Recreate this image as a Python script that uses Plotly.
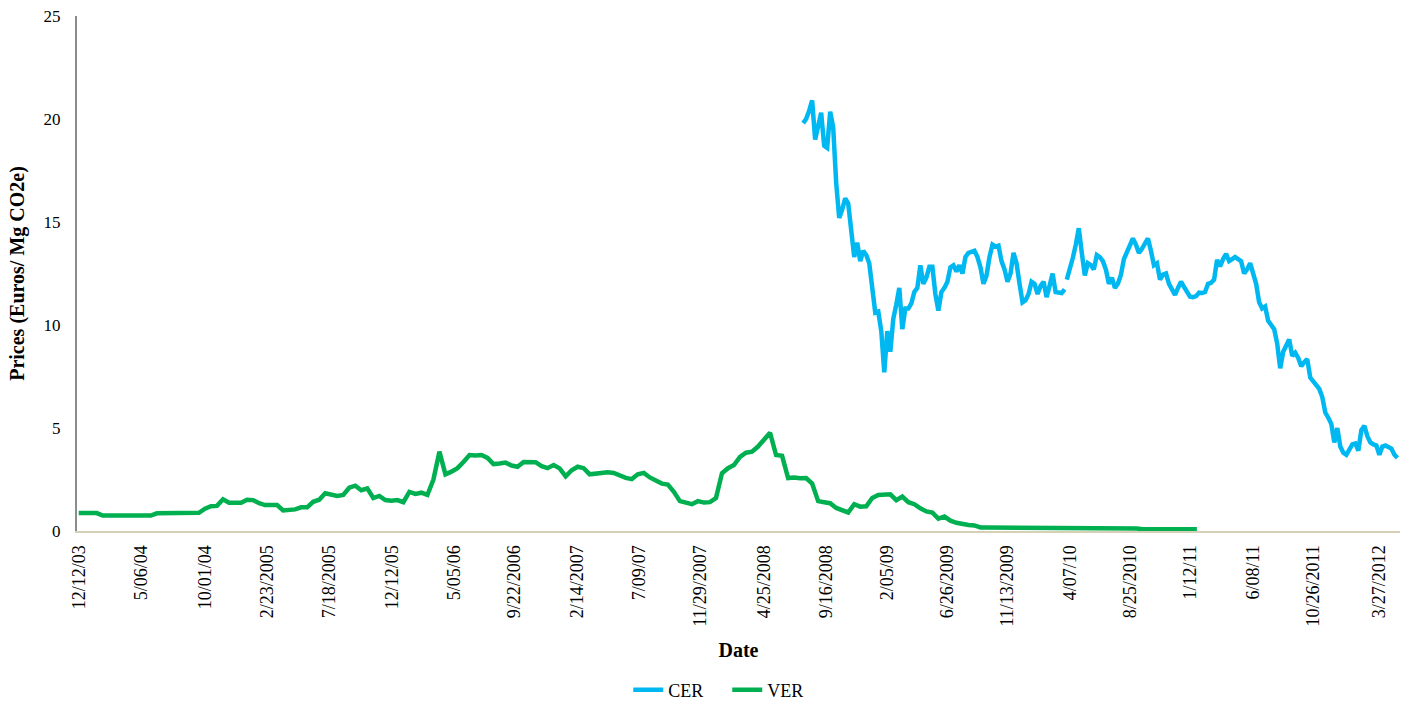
import pandas as pd
import plotly.graph_objects as go

# VER prices, fortnightly observations from 12 Dec 2003
ver_start = "2003-12-12"
ver_values = [
    0.87, 0.87, 0.87, 0.87,
    0.75, 0.75, 0.75, 0.75, 0.75, 0.75, 0.75, 0.75, 0.75,
    0.86, 0.86, 0.86, 0.86, 0.86, 0.86, 0.86,
    0.88, 1.08, 1.20, 1.22, 1.54, 1.37, 1.37, 1.37, 1.52, 1.50,
    1.35, 1.26, 1.26, 1.26, 1.00, 1.00, 1.05, 1.15, 1.15, 1.42,
    1.52, 1.83, 1.75, 1.70, 1.75, 2.10, 2.20, 1.98, 2.07, 1.60,
    1.70, 1.50, 1.47, 1.50, 1.40, 1.90, 1.80, 1.86, 1.75, 2.50,
    3.85, 2.75, 2.88, 3.05, 3.35, 3.69, 3.66, 3.69, 3.55, 3.25,
    3.28, 3.32, 3.18, 3.12, 3.35, 3.32, 3.34, 3.15, 3.05, 3.20,
    3.04, 2.65, 2.95, 3.12, 3.05, 2.75, 2.78, 2.82, 2.85, 2.82,
    2.67, 2.58, 2.52, 2.75, 2.82, 2.60, 2.45, 2.30, 2.25, 1.90,
    1.45, 1.35, 1.30, 1.45, 1.38, 1.40, 1.60, 2.80, 3.05, 3.20,
    3.60, 3.80, 3.85, 4.10, 4.40, 4.77, 3.69, 3.65, 2.57, 2.60,
    2.56, 2.57, 2.30, 1.45, 1.40, 1.35, 1.12, 1.00, 0.90, 1.30,
    1.18, 1.20, 1.60, 1.75, 1.78, 1.78, 1.50, 1.67, 1.40, 1.30,
    1.10, 0.95, 0.89, 0.60, 0.70, 0.50, 0.40, 0.33, 0.29, 0.27,
    0.17, 0.17, 0.17, 0.17, 0.17, 0.17, 0.17, 0.17, 0.17, 0.17,
    0.17, 0.17, 0.17, 0.17, 0.17, 0.17, 0.17, 0.17, 0.17, 0.17,
    0.17, 0.17, 0.17, 0.17, 0.17, 0.17,
    0.12,
    0.09, 0.09, 0.09, 0.09, 0.09, 0.09, 0.09, 0.09, 0.09, 0.09,
]

# CER prices, weekly, in two runs separated by a break in the record
cer_start_1 = "2008-07-25"
cer_values_1 = [
    19.8, 20.0, 20.4, 20.9, 19.0, 19.7, 20.3, 18.7, 18.6, 20.35,
    19.6, 16.9, 15.2, 15.6, 16.15, 15.9, 14.6, 13.3, 14.0, 13.1,
    13.6, 13.4, 13.0, 11.6, 10.6, 10.65, 9.7, 7.7, 9.7, 8.7,
    10.3, 11.0, 11.8, 9.8, 10.8, 10.8, 11.05, 11.6, 11.8, 12.9,
    12.0, 12.3, 12.83, 12.83, 11.5, 10.7, 11.6, 11.8, 12.1, 12.8,
    12.9, 12.6, 12.9, 12.5, 13.3, 13.5, 13.55, 13.6, 13.3, 12.8,
    12.0, 12.4, 13.3, 13.9, 13.8, 13.85, 13.1, 12.7, 12.1, 12.5,
    13.5, 13.0, 12.0, 11.1, 11.2, 11.5, 12.1, 12.0, 11.5, 11.9,
    12.1, 11.35, 11.9, 12.5, 11.6, 11.55, 11.55, 11.73,
]
cer_gap = "2010-03-28"
cer_start_2 = "2010-03-31"
cer_values_2 = [
    12.2, 12.7, 13.25, 13.9, 14.7, 13.5, 12.4, 13.0, 12.9, 12.7,
    13.4, 13.3, 13.1, 12.7, 12.0, 12.3, 11.8, 12.0, 12.43, 13.2,
    13.5, 13.8, 14.2, 13.9, 13.5, 13.7, 14.0, 14.2, 13.6, 12.9,
    13.0, 12.2, 12.45, 12.5, 12.0, 11.7, 11.46, 11.8, 12.1, 11.85,
    11.6, 11.37, 11.35, 11.4, 11.57, 11.55, 11.6, 12.0, 12.05, 12.2,
    13.16, 12.85, 13.2, 13.45, 13.1, 13.2, 13.3, 13.2, 13.1, 12.5,
    12.7, 13.0, 12.4, 12.0, 11.1, 10.8, 10.9, 10.2, 10.0, 9.8,
    9.1, 7.9, 8.7, 9.0, 9.3, 8.5, 8.65, 8.4, 8.0, 8.2,
    8.35, 7.45, 7.25, 7.1, 6.9, 6.5, 5.75, 5.5, 5.2, 4.3,
    5.0, 4.1, 3.8, 3.7, 3.95, 4.2, 4.25, 3.9, 4.9, 5.1,
    4.6, 4.3, 4.2, 4.15, 3.7, 4.1, 4.15, 4.05, 4.0, 3.7,
    3.55,
]

tick_dates = [
    "2003-12-12", "2004-05-06", "2004-10-01", "2005-02-23", "2005-07-18",
    "2005-12-12", "2006-05-05", "2006-09-22", "2007-02-14", "2007-07-09",
    "2007-11-29", "2008-04-25", "2008-09-16", "2009-02-05", "2009-06-26",
    "2009-11-13", "2010-04-07", "2010-08-25", "2011-01-12", "2011-06-08",
    "2011-10-26", "2012-03-27",
]
tick_labels = [
    "12/12/03", "5/06/04", "10/01/04", "2/23/2005", "7/18/2005",
    "12/12/05", "5/05/06", "9/22/2006", "2/14/2007", "7/09/07",
    "11/29/2007", "4/25/2008", "9/16/2008", "2/05/09", "6/26/2009",
    "11/13/2009", "4/07/10", "8/25/2010", "1/12/11", "6/08/11",
    "10/26/2011", "3/27/2012",
]

ver_dates = pd.date_range(ver_start, periods=len(ver_values), freq="14D")
cer_dates = (
    list(pd.date_range(cer_start_1, periods=len(cer_values_1), freq="7D"))
    + [pd.Timestamp(cer_gap)]
    + list(pd.date_range(cer_start_2, periods=len(cer_values_2), freq="7D"))
)
cer_values = cer_values_1 + [None] + cer_values_2

FONT = "Liberation Serif, Times New Roman, serif"

fig = go.Figure()
fig.add_trace(go.Scatter(
    x=cer_dates, y=cer_values, name="CER", mode="lines",
    line=dict(color="#00B8F1", width=4.5), connectgaps=False,
))
fig.add_trace(go.Scatter(
    x=ver_dates, y=ver_values, name="VER", mode="lines",
    line=dict(color="#00B050", width=4.5),
))

fig.update_layout(
    width=1402, height=702,
    margin=dict(l=77, r=2, t=16, b=171, pad=0, autoexpand=False),
    paper_bgcolor="white", plot_bgcolor="white",
    font=dict(family=FONT, size=17, color="black"),
    showlegend=True,
    legend=dict(
        orientation="h", x=0.4915, xanchor="center", y=-0.309, yanchor="middle",
        font=dict(family=FONT, size=18, color="black"),
        entrywidth=54, entrywidthmode="pixels", tracegroupgap=0,
    ),
    xaxis=dict(
        type="date", range=["2003-12-08", "2012-05-15"],
        tickmode="array", tickvals=tick_dates, ticktext=tick_labels,
        tickangle=-90, ticks="", ticklabelstandoff=5,
        tickfont=dict(family=FONT, size=18, color="black"),
        showline=True, linecolor="#d6d0b6", linewidth=2,
        showgrid=False, zeroline=False, automargin=False,
        title=dict(text="<b>Date</b>", standoff=17,
                   font=dict(family=FONT, size=20, color="black")),
    ),
    yaxis=dict(
        range=[0, 25], tickmode="array", tickvals=[0, 5, 10, 15, 20, 25],
        ticks="", ticklabelstandoff=11,
        tickfont=dict(family=FONT, size=17, color="black"),
        showline=True, linecolor="#8c8c8c", linewidth=2,
        showgrid=False, zeroline=False, automargin=False,
        title=dict(text="<b>Prices (Euros/ Mg CO2e)</b>", standoff=14,
                   font=dict(family=FONT, size=20, color="black")),
    ),
)

fig.write_html("out.html")
